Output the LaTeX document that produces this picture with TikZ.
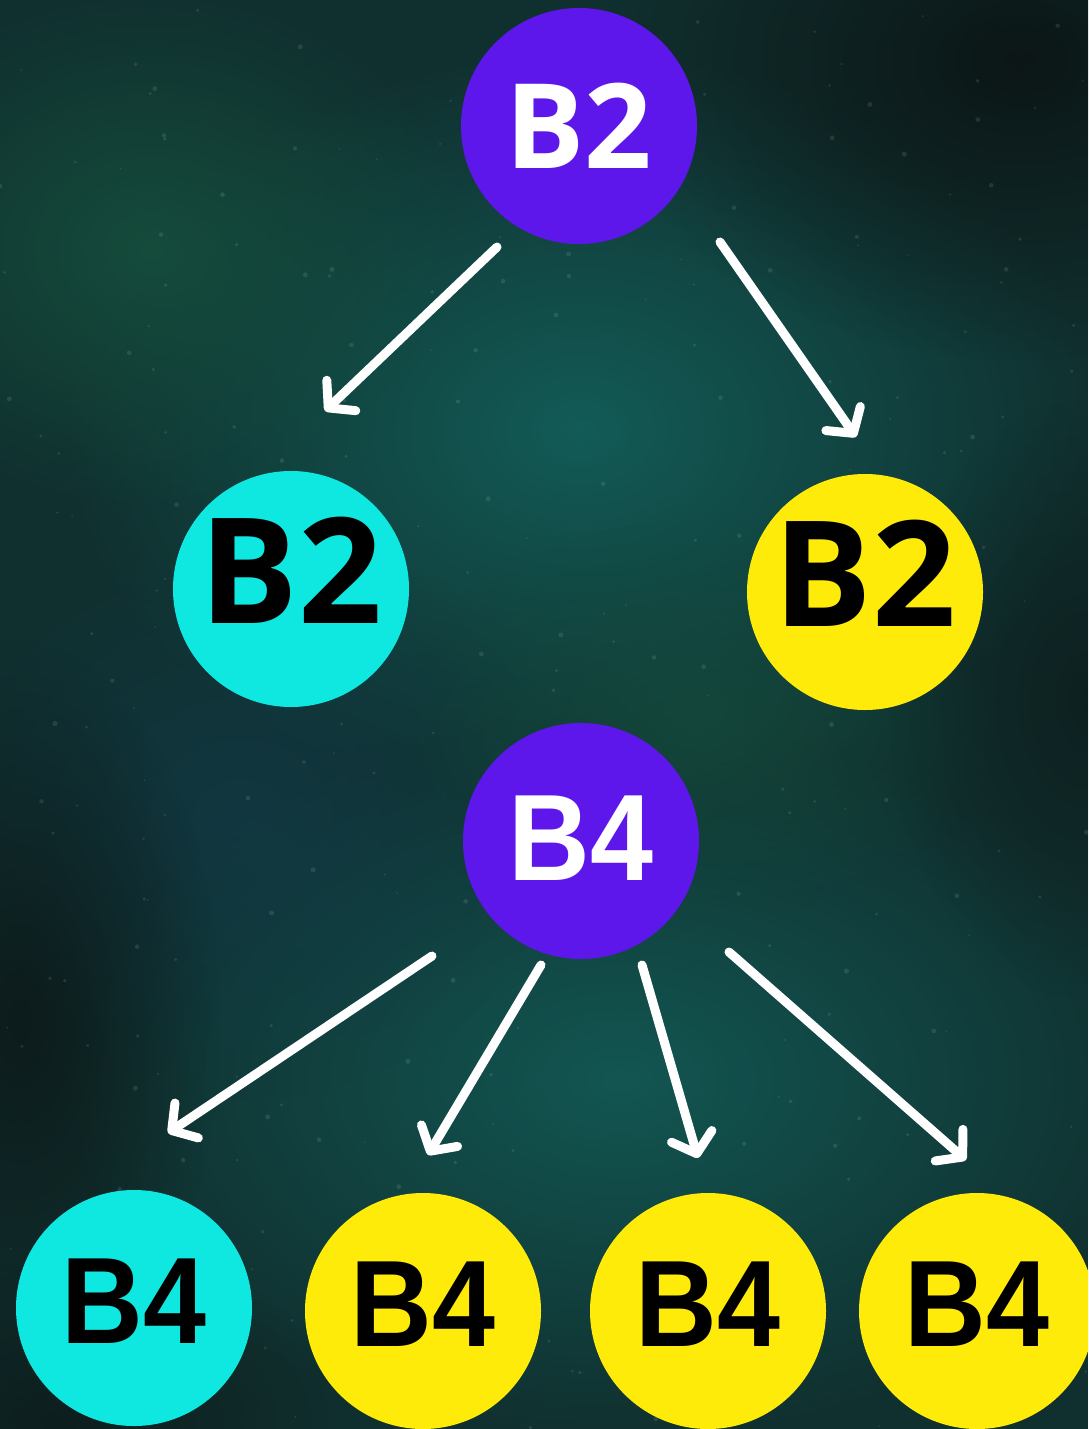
\documentclass[tikz,border=0pt]{standalone}
\usepackage{fontspec}
\newfontfamily\osans{Open Sans}
\newfontfamily\lsans{Liberation Sans}[FakeStretch=0.92]
\usetikzlibrary{arrows.meta,fadings}
\definecolor{bgbase}{HTML}{10302F}
\definecolor{bgteal}{HTML}{13605B}
\definecolor{bgdark}{HTML}{0C1616}
\definecolor{bggreen}{HTML}{154C3C}
\definecolor{bgblue}{HTML}{123A48}
\definecolor{nodepurple}{HTML}{5E17EB}
\definecolor{nodecyan}{HTML}{0FE8E1}
\definecolor{nodeyellow}{HTML}{FFEB0A}
\tikzfading[name=softblob, inner color=transparent!0, outer color=transparent!100]
\tikzset{
  blob/.style={path fading=softblob},
  ball/.style={circle, minimum size=236pt, inner sep=0pt},
  purpleball/.style={ball, fill=nodepurple, text=white},
  cyanball/.style={ball, fill=nodecyan, text=black},
  yellowball/.style={ball, fill=nodeyellow, text=black},
  whiteB2/.style={font=\osans\bfseries\fontsize{118}{118}\selectfont},
  whiteB4/.style={font=\lsans\bfseries\fontsize{123}{123}\selectfont, text depth=5pt},
  bigB2/.style={font=\osans\bfseries\fontsize{147}{147}\selectfont, text depth=38pt},
  bigB4/.style={font=\lsans\bfseries\fontsize{123}{123}\selectfont, text depth=14pt},
  arr/.style={draw=white, line width=9pt, line cap=round,
    -{Straight Barb[length=18pt, width=42pt, line cap=round, line join=round]}}
}
\begin{document}
\begin{tikzpicture}[x=1pt,y=-1pt]
\useasboundingbox (0,0) rectangle (1088,1429);
\clip (0,0) rectangle (1088,1429);
% background
\fill[bgbase] (0,0) rectangle (1088,1429);
\fill[bgteal, blob, opacity=0.9] (580,430) ellipse (520 and 380);
\fill[bgteal, blob, opacity=0.8] (620,1080) ellipse (560 and 360);
\fill[bggreen, blob] (150,250) ellipse (320 and 260);
\fill[bgblue, blob, opacity=0.7] (240,820) ellipse (320 and 280);
\fill[bggreen, blob, opacity=0.7] (700,720) ellipse (300 and 200);
\fill[bgdark, blob] (1020,60) ellipse (420 and 300);
\fill[bgdark, blob, opacity=0.8] (20,1020) ellipse (200 and 380);
\fill[bgdark, blob, opacity=0.7] (60,1420) ellipse (300 and 160);
\fill[bgdark, blob, opacity=0.6] (1088,700) ellipse (200 and 300);
\pgfmathsetseed{7}
\foreach \i in {1,...,260}{
  \pgfmathsetmacro{\sx}{rnd*1088}
  \pgfmathsetmacro{\sy}{rnd*1429}
  \pgfmathsetmacro{\sr}{0.8+rnd*1.8}
  \fill[white, opacity=0.1] (\sx,\sy) circle (\sr);
}
% nodes
\node[purpleball, whiteB2] (topB2) at (579,126) {B2};
\node[cyanball, bigB2] (leftB2) at (291,589) {B2};
\node[yellowball, bigB2] (rightB2) at (865,592) {B2};
\node[purpleball, whiteB4] (midB4) at (581,841) {B4};
\node[cyanball, bigB4] (b1) at (134,1308) {B4};
\node[yellowball, bigB4] (b2) at (423,1311) {B4};
\node[yellowball, bigB4] (b3) at (708,1311) {B4};
\node[yellowball, bigB4] (b4) at (977,1311) {B4};
% connector end points
\coordinate (s1) at (497,247); \coordinate (e1) at (325,411);
\coordinate (s2) at (720,242); \coordinate (e2) at (856,437);
\coordinate (s3) at (432,956); \coordinate (e3) at (168,1133);
\coordinate (s4) at (541,965); \coordinate (e4) at (428,1155);
\coordinate (s5) at (642,965); \coordinate (e5) at (698,1158);
\coordinate (s6) at (729,952); \coordinate (e6) at (966,1160);
\draw[arr] (s1) -- (e1);
\draw[arr] (s2) -- (e2);
\draw[arr] (s3) -- (e3);
\draw[arr] (s4) -- (e4);
\draw[arr] (s5) -- (e5);
\draw[arr] (s6) -- (e6);
\end{tikzpicture}
\end{document}
